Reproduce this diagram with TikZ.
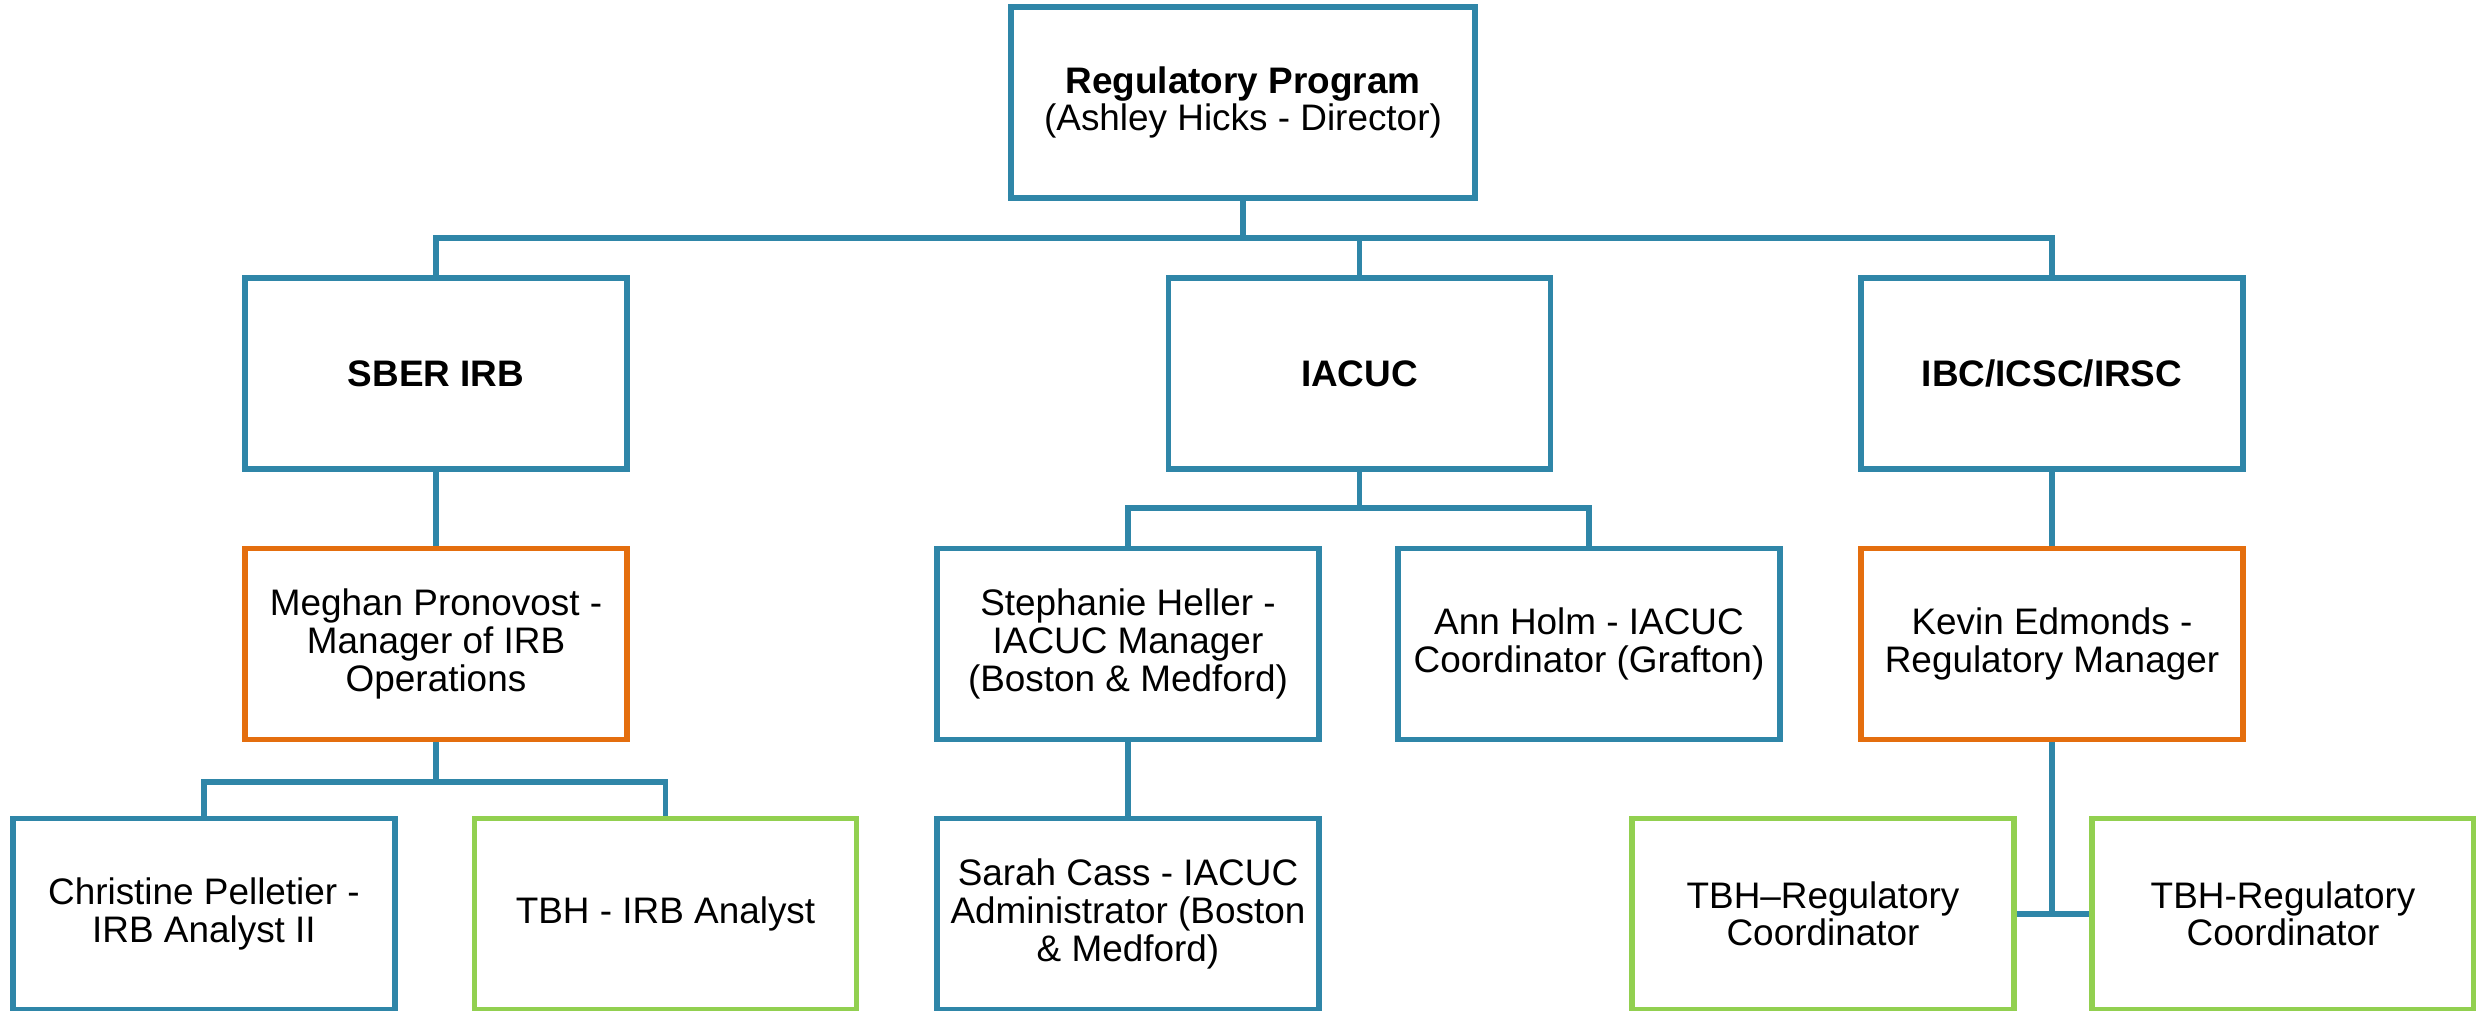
\documentclass[tikz,border=0pt]{standalone}
\usepackage{xcolor}
\usepackage{tikz}
\usepackage{fontspec}
\setmainfont{Liberation Sans}
\definecolor{orgblue}{RGB}{47, 134, 168}
\definecolor{orgorange}{RGB}{228, 110, 14}
\definecolor{orggreen}{RGB}{146, 208, 80}

\begin{document}
\begin{tikzpicture}[
    unit/.style={draw=orgblue, line width=1.6pt, fill=white, minimum width=3.82cm, minimum height=1.91cm,
        align=center, inner sep=2pt, font=\fontsize{10.5}{10.7}\selectfont},
    manager/.style={unit, draw=orgorange},
    vacant/.style={unit, draw=orggreen},
    conn/.style={orgblue, line width=1.6pt}
]
\useasboundingbox (0,0) rectangle (24.76,-10.11);

% Top of the chart
\node[unit, minimum width=4.64cm] (prog) at (12.43,-1.025) {\textbf{Regulatory Program}\\(Ashley Hicks - Director)};

% Committees
\node[unit] (sber) at (4.36,-3.735) {\textbf{SBER IRB}};
\node[unit] (iacuc) at (13.595,-3.735) {\textbf{IACUC}};
\node[unit] (ibc) at (20.52,-3.735) {\textbf{IBC/ICSC/IRSC}};

% Managers and staff
\node[manager] (meghan) at (4.36,-6.44) {Meghan Pronovost -\\Manager of IRB\\Operations};
\node[unit] (stephanie) at (11.28,-6.44) {Stephanie Heller -\\IACUC Manager\\(Boston \& Medford)};
\node[unit] (ann) at (15.89,-6.44) {Ann Holm - IACUC\\Coordinator (Grafton)};
\node[manager] (kevin) at (20.52,-6.44) {Kevin Edmonds -\\Regulatory Manager};

\node[unit] (christine) at (2.04,-9.14) {Christine Pelletier -\\IRB Analyst II};
\node[vacant] (irbanalyst) at (6.655,-9.14) {TBH - IRB Analyst};
\node[unit] (sarah) at (11.28,-9.14) {Sarah Cass - IACUC\\Administrator (Boston\\\& Medford)};
\node[vacant] (regcoordA) at (18.23,-9.14) {TBH--Regulatory\\Coordinator};
\node[vacant] (regcoordB) at (22.83,-9.14) {TBH-Regulatory\\Coordinator};

% Connectors
\coordinate (topbus) at (12.43,-2.38);
\coordinate (iacucbus) at (13.595,-5.08);
\coordinate (irbbus) at (4.36,-7.82);

\draw[conn] (prog.south) -- (topbus);
\draw[conn] (sber.north) |- (topbus) -| (ibc.north);
\draw[conn] (iacuc.north) -- (iacuc.north |- topbus);

\draw[conn] (sber.south) -- (meghan.north);
\draw[conn] (meghan.south) -- (irbbus);
\draw[conn] (christine.north) |- (irbbus) -| (irbanalyst.north);

\draw[conn] (iacuc.south) -- (iacucbus);
\draw[conn] (stephanie.north) |- (iacucbus) -| (ann.north);
\draw[conn] (stephanie.south) -- (sarah.north);

\draw[conn] (ibc.south) -- (kevin.north);
\draw[conn] (kevin.south) -- (kevin.south |- regcoordA.east);
\draw[conn] (regcoordA.east) -- (regcoordB.west);
\end{tikzpicture}
\end{document}
